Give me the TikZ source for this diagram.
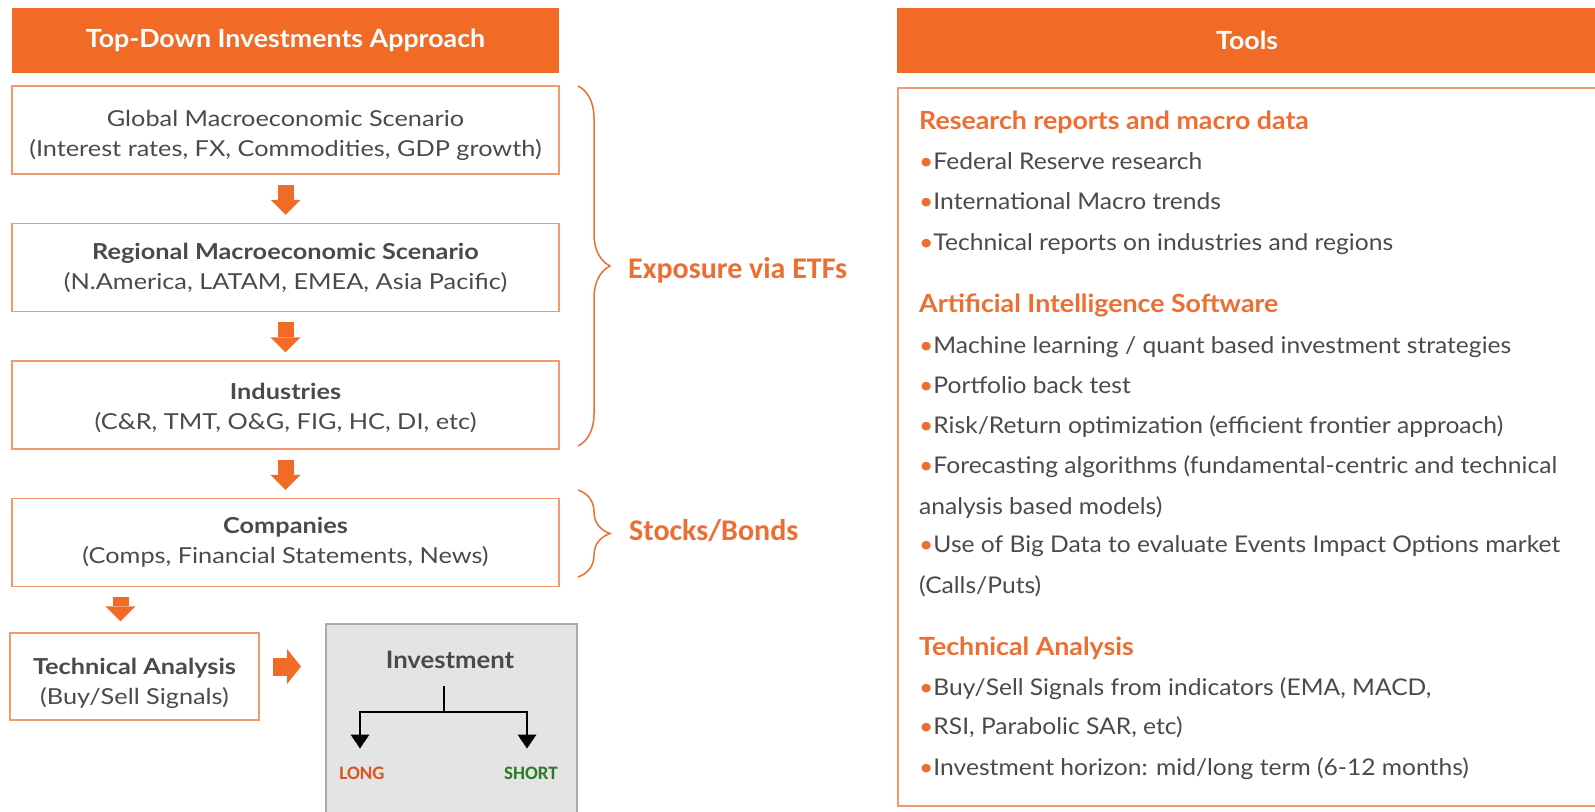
\documentclass[tikz,border=0pt]{standalone}
\usepackage{fontspec}
\setmainfont{Lato}
\newfontfamily\leftfont{Lato}[FakeStretch=1.15]
\newfontfamily\rightfont{Lato}[FakeStretch=1.07]
\newfontfamily\calfont{Carlito}
\usetikzlibrary{positioning,arrows.meta,decorations.pathreplacing}

\definecolor{hdrorange}{HTML}{F26B26}
\definecolor{boxorange}{HTML}{F29A6E}
\definecolor{txtorange}{HTML}{EE6D31}
\definecolor{txtgray}{HTML}{4A4A4A}
\definecolor{longred}{HTML}{D9541E}
\definecolor{shortgreen}{HTML}{2C7A2C}
\definecolor{invgray}{HTML}{E4E4E4}
\definecolor{invborder}{HTML}{ABABAB}
\newcommand{\tbul}{{\color{txtorange}\textbullet}}
\newcommand{\bxstrut}[1]{\rule{0pt}{#1}}

\begin{document}
\begin{tikzpicture}[x=1pt, y=-1pt,
	hstyle/.style={fill=hdrorange, text=white, inner sep=0pt,
	font=\rightfont\fontsize{25}{30}\selectfont\bfseries, minimum height=65pt},
	lstyle/.style={draw=boxorange, line width=1.5pt, text=txtgray,
	minimum width=547pt, minimum height=88pt, align=center,
	font=\leftfont\fontsize{22}{30}\selectfont},
	barrow/.style={draw=hdrorange, line width=16pt,
	-{Triangle[length=15pt,width=30pt,line width=0pt]},
	shorten <=10pt, shorten >=8pt},
	brc/.style={draw=txtorange, line width=1.5pt, decorate,
	decoration={brace, amplitude=32pt}},
	blbl/.style={text=txtorange, anchor=west, inner sep=0pt,
	font=\calfont\bfseries\fontsize{30}{34}\selectfont},
	rline/.style={anchor=base west, inner sep=0pt, text=txtgray,
	font=\rightfont\fontsize{23}{26}\selectfont},
	rhead/.style={anchor=base west, inner sep=0pt, text=txtorange,
	font=\rightfont\fontsize{25}{30}\selectfont\bfseries},
	tline/.style={draw=black, line width=2.5pt},
	tarrow/.style={tline, -{Triangle[length=14pt,width=19pt,line width=0pt]},
	shorten >=18pt},
	]
	\useasboundingbox (0,0) rectangle (1595,811);
	
	% left column
	\node[hstyle, minimum width=547pt] (tdhdr) at (285.5,40.5)
	{Top-Down Investments Approach};
	\node[lstyle] (glob) at (285.5,130)
	{\bxstrut{28pt}Global Macroeconomic Scenario\\(Interest rates, FX, Commodities, GDP growth)};
	\node[lstyle] (reg) [below=48pt of glob]
	{\textbf{Regional Macroeconomic Scenario}\\(N.America, LATAM, EMEA, Asia Pacific)};
	\node[lstyle] (ind) [below=48pt of reg]
	{\bxstrut{22pt}\textbf{Industries}\\(C\&R, TMT, O\&G, FIG, HC, DI, etc)};
	\node[lstyle] (comp) [below=48pt of ind]
	{\textbf{Companies}\\(Comps, Financial Statements, News)};
	\node[lstyle, minimum width=249pt, minimum height=87pt] (ta) at (134.5,676.5)
	{\bxstrut{30pt}\textbf{Technical Analysis}\\(Buy/Sell Signals)};
	
	\draw[barrow] (glob) -- (reg);
	\draw[barrow] (reg) -- (ind);
	\draw[barrow] (ind) -- (comp);
	\draw[barrow, shorten >=11pt]
	([xshift=-14pt]ta.north |- comp.south) -- ([xshift=-14pt]ta.north);
	\draw[barrow, line width=18pt, -{Triangle[length=14pt,width=35pt,line width=0pt]},
	shorten <=13pt, shorten >=24pt]
	([yshift=10pt]ta.east) -- ([yshift=10pt]ta.east -| 325,0);
	
	% investment box
	\node[draw=invborder, fill=invgray, line width=2pt, anchor=north west,
	minimum width=251pt, minimum height=220pt] (inv) at (325,623) {};
	\node[text=txtgray, font=\rightfont\fontsize{24}{28}\selectfont\bfseries] (invlbl)
	at (450,660) {Investment};
	\node[text=longred, inner sep=0pt, font=\calfont\bfseries\fontsize{19}{22}\selectfont]
	(long) at (362,773) {LONG};
	\node[text=shortgreen, inner sep=0pt, font=\calfont\bfseries\fontsize{19}{22}\selectfont]
	(short) at (531,773) {SHORT};
	\coordinate (fork) at (444,712);
	\draw[tline] (444,686) -- (fork);
	\draw[tarrow] (fork) -| ([xshift=-2pt]long.north);
	\draw[tarrow] (fork) -| ([xshift=-4pt]short.north);
	
	% braces
	\draw[brc] (578,86) -- (578,446);
	\node[blbl] (etf) at (628,270) {Exposure via ETFs};
	\draw[brc] (578,490) -- (578,577);
	\node[blbl] (stb) at (629,531) {Stocks/Bonds};
	
	% right column
	\node[hstyle, minimum width=700pt, anchor=north west] (toolhdr) at (897,8) {Tools};
	\node[draw=boxorange, line width=1.5pt, anchor=north west,
	minimum width=702pt, minimum height=718pt] (toolbox) at (897,87) {};
	
	\node[rhead] (rh1) at (919,129) {Research reports and macro data};
	\node[rline] (r11) at (919,169) {\tbul Federal Reserve research};
	\node[rline] (r12) at (919,209) {\tbul International Macro trends};
	\node[rline] (r13) at (919,250) {\tbul Technical reports on industries and regions};
	
	\node[rhead] (rh2) at (919,312) {Artificial Intelligence Software};
	\node[rline] (r21) at (919,353) {\tbul Machine learning / quant based investment strategies};
	\node[rline] (r22) at (919,393) {\tbul Portfolio back test};
	\node[rline] (r23) at (919,433) {\tbul Risk/Return optimization (efficient frontier approach)};
	\node[rline] (r24) at (919,473) {\tbul Forecasting algorithms (fundamental-centric and technical};
	\node[rline] (r25) at (919,514) {analysis based models)};
	\node[rline] (r26) at (919,552) {\tbul Use of Big Data to evaluate Events Impact Options market};
	\node[rline] (r27) at (919,593) {(Calls/Puts)};
	
	\node[rhead] (rh3) at (919,655) {Technical Analysis};
	\node[rline] (r31) at (919,695) {\tbul Buy/Sell Signals from indicators (EMA, MACD,};
	\node[rline] (r32) at (919,734) {\tbul RSI, Parabolic SAR, etc)};
	\node[rline] (r33) at (919,775) {\tbul Investment horizon: mid/long term (6-12 months)};
\end{tikzpicture}
\end{document}
